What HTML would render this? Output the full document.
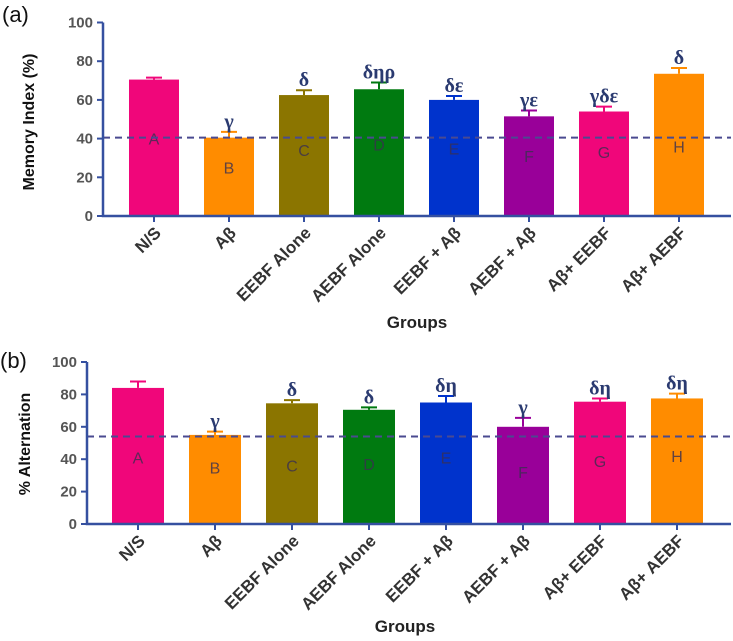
<!DOCTYPE html>
<html><head><meta charset="utf-8"><style>
body{margin:0;background:#fff;width:733px;height:636px;overflow:hidden}
svg{font-family:"Liberation Sans",sans-serif}
</style></head><body>
<svg id="s" width="733" height="636"></svg>
<script>
const categories=["N/S","Aβ","EEBF Alone","AEBF Alone","EEBF + Aβ","AEBF + Aβ","Aβ+ EEBF","Aβ+ AEBF"];
const colors=["#f0067a","#ff8c00","#8b7500","#007a10","#0033cc","#990099","#f0067a","#ff8c00"];
const letters=["A","B","C","D","E","F","G","H"];
const memoryValues=[70.5,40.5,62.5,65.5,60,51.5,54,73.5];
const memoryErrors=[1,3,2.5,3.5,2,3,2.5,3];
const memorySig=["","γ","δ","δηρ","δε","γε","γδε","δ"];
const memoryLetterY=[40,25,34,37,35,31,33,36];
const altValues=[84,55,74.5,70.5,75,60,75.5,77.5];
const altErrors=[4,2,2,1.5,4,5.5,2,3];
const altSig=["","γ","δ","δ","δη","γ","δη","δη"];
const altLetterY=[41,35,36,37,41,32,39,42];
const yTicks=[0,20,40,60,80,100];
const NS="http://www.w3.org/2000/svg";
const svg=document.getElementById('s');
function el(t,a,p){const e=document.createElementNS(NS,t);for(const k in a)e.setAttribute(k,a[k]);(p||svg).appendChild(e);return e;}
function panel(o){
  const g=el('g',{});
  
  
  const y=v=>o.y0-(o.y0-o.y100)*v/100;
  const x=i=>o.xc0+i*o.step;
  const lab=el('text',{x:o.px,y:o.py,'font-size':22,fill:'#111'},g);lab.textContent=o.panelLabel;
  
  o.vals.forEach((v,i)=>{
    const c=colors[i],cx=x(i),bw=o.bw;
    const eb=el('path',{d:`M${cx} ${y(v)}V${y(v+o.errs[i])}M${cx-8} ${y(v+o.errs[i])}H${cx+8}`,stroke:c,'stroke-width':2,fill:'none'},g);
    
    const r=el('rect',{x:cx-bw/2,y:y(v),width:bw,height:o.y0-y(v),fill:c},g);
    
    const t=el('text',{x:cx,y:y(o.ly[i])+6,'font-size':16,'text-anchor':'middle',fill:'#3a3050','fill-opacity':0.8},g);t.textContent=letters[i];
    
    if(o.sig[i]){const s=el('text',{x:cx,y:y(v+o.errs[i])-4,'font-size':20,'font-weight':'bold','font-family':'Liberation Serif,serif','text-anchor':'middle',fill:'#2a3a70'},g);s.textContent=o.sig[i];
    }
    const tk=el('line',{x1:cx,x2:cx,y1:o.y0,y2:o.y0+6,stroke:'#3550a0','stroke-width':2},g);
    
    const cl=el('text',{transform:`translate(${cx+8},${o.y0+18}) rotate(-45)`,'font-size':17,'font-weight':'bold','text-anchor':'end',fill:'#333'},g);cl.textContent=categories[i];
    
  });
  const d=el('line',{x1:o.ax,x2:731,y1:y(o.dash),y2:y(o.dash),stroke:'#4a4a90','stroke-width':2,'stroke-dasharray':'7,5'},g);
  
  const ax=el('path',{d:`M${o.ax} ${o.y100}V${o.y0}H731`,stroke:'#3550a0','stroke-width':2.5,fill:'none'},g);
  
  yTicks.forEach(t=>{
    const l=el('line',{x1:o.ax-6,x2:o.ax,y1:y(t),y2:y(t),stroke:'#3550a0','stroke-width':2},g);
    
    const tt=el('text',{x:o.ax-10,y:y(t)+5,'font-size':15,'font-weight':'bold','text-anchor':'end',fill:'#555'},g);tt.textContent=t;
    
  });
  const yt=el('text',{transform:`translate(${o.ytx},${o.yty}) rotate(-90)`,'font-size':16,'font-weight':'bold','text-anchor':'middle',fill:'#111'},g);yt.textContent=o.ytitle;
  
  const xt=el('text',{x:o.gx,y:o.gy,'font-size':17,'font-weight':'bold','text-anchor':'middle',fill:'#222'},g);xt.textContent="Groups";
  
}
panel({name:'memory-index-chart',panelLabel:'(a)',px:2,py:22,vals:memoryValues,errs:memoryErrors,sig:memorySig,ly:memoryLetterY,dash:40.5,
 y0:216,y100:22.5,ax:103,xc0:154,step:75,bw:50,ytitle:'Memory Index (%)',ytx:34,yty:122,gx:417,gy:328});
panel({name:'alternation-chart',panelLabel:'(b)',px:0,py:368,vals:altValues,errs:altErrors,sig:altSig,ly:altLetterY,dash:54,
 y0:524,y100:362,ax:87,xc0:138,step:77,bw:52,ytitle:'% Alternation',ytx:30,yty:444,gx:405,gy:632});
</script></body></html>
